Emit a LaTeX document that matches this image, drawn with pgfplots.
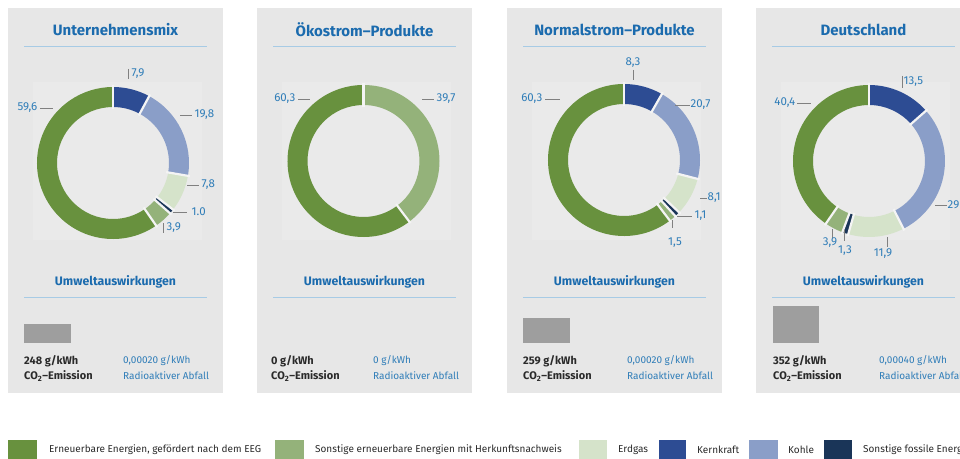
\documentclass[border=0pt]{standalone}
\usepackage{fontspec}
\setmainfont{Fira Sans}
\usepackage{pgfplots}
\usepackage{pgfplotstable}
\pgfplotsset{compat=1.18}

\definecolor{eeg}{HTML}{68913E}
\definecolor{sonstee}{HTML}{94B27A}
\definecolor{erdgas}{HTML}{D5E3CA}
\definecolor{kern}{HTML}{2D4C93}
\definecolor{kohle}{HTML}{8A9EC8}
\definecolor{fossil}{HTML}{1A3558}
\definecolor{cardbg}{HTML}{E7E7E7}
\definecolor{donutbg}{HTML}{EAEAEA}
\definecolor{gapc}{HTML}{F4F4F4}
\definecolor{titleblue}{HTML}{1B6BAE}
\definecolor{numblue}{HTML}{2F7DB8}
\definecolor{lineblue}{HTML}{A7CBE5}
\definecolor{barg}{HTML}{9E9E9E}
\definecolor{txt}{HTML}{2A2A2A}
\definecolor{tick}{HTML}{808080}

% share of each source, clockwise from the top
\pgfplotstableread{
v c
7.9 kern
19.8 kohle
7.8 erdgas
1.0 fossil
3.9 sonstee
59.6 eeg
}\tabA
\pgfplotstableread{
v c
39.7 sonstee
60.3 eeg
}\tabB
\pgfplotstableread{
v c
8.3 kern
20.7 kohle
8.1 erdgas
1.1 fossil
1.5 sonstee
60.3 eeg
}\tabC
\pgfplotstableread{
v c
13.5 kern
29.0 kohle
11.9 erdgas
1.3 fossil
3.9 sonstee
40.4 eeg
}\tabD

\newcommand\fs[1]{\fontsize{#1bp}{#1bp}\selectfont}
\def\Ro{76bp}\def\Ri{56bp}\def\Rw{20bp}

\newcommand\donut[3]{%
  \pgfplotstablegetrowsof{#1}%
  \pgfmathtruncatemacro\lastrow{\pgfplotsretval-1}%
  \gdef\cum{0}%
  \foreach \i in {0,...,\lastrow}{%
    \pgfplotstablegetelem{\i}{v}\of{#1}\let\val\pgfplotsretval
    \pgfplotstablegetelem{\i}{c}\of{#1}\let\col\pgfplotsretval
    \pgfmathsetmacro\sa{90-3.6*\cum}%
    \pgfmathsetmacro\sb{90-3.6*(\cum+\val)}%
    \fill[\col] (axis cs:#2,#3) ++(\sa:\Ro) arc[start angle=\sa, end angle=\sb, radius=\Ro]
      -- ++(\sb:-\Rw) arc[start angle=\sb, end angle=\sa, radius=\Ri] -- cycle;
    \pgfmathsetmacro\nc{\cum+\val}\xdef\cum{\nc}%
  }%
  \gdef\cum{0}%
  \foreach \i in {0,...,\lastrow}{%
    \pgfplotstablegetelem{\i}{v}\of{#1}\let\val\pgfplotsretval
    \pgfmathsetmacro\sa{90-3.6*\cum}%
    \draw[gapc, line width=2.2bp] (axis cs:#2,#3) ++(\sa:54bp) -- ++(\sa:24bp);
    \pgfmathsetmacro\nc{\cum+\val}\xdef\cum{\nc}%
  }%
}

% card: left x, title
\newcommand\card[2]{%
  \fill[cardbg] (axis cs:#1,8) rectangle (axis cs:#1+215,393);
  \fill[donutbg] (axis cs:#1+25,82) rectangle (axis cs:#1+194,240);
  \node[titleblue, font=\fs{15}\bfseries] at (axis cs:#1+107.5,30) {#2};
  \draw[lineblue, line width=0.8bp] (axis cs:#1+16,46) -- (axis cs:#1+199,46);
  \node[titleblue, font=\fs{12.3}\bfseries] at (axis cs:#1+107.5,282) {Umweltauswirkungen};
  \draw[lineblue, line width=0.6bp] (axis cs:#1+16,297) -- (axis cs:#1+199,297);
}
% bottom text: x of black text, co2, x of blue text, waste
\newcommand\bottomtext[4]{%
  \node[txt, anchor=west, inner sep=0pt, font=\fs{11}\bfseries] at (axis cs:#1,361) {#2 g/kWh};
  \node[txt, anchor=west, inner sep=0pt, font=\fs{11}\bfseries] at (axis cs:#1,376) {CO\textsubscript{2}–Emission};
  \node[numblue, anchor=west, inner sep=0pt, font=\fs{10}] at (axis cs:#3,361) {#4 g/kWh};
  \node[numblue, anchor=west, inner sep=0pt, font=\fs{10}] at (axis cs:#3,376) {Radioaktiver Abfall};
}
\newcommand\lbl[3]{\node[numblue, font=\fs{11.5}, inner sep=1.5bp, #1] at (axis cs:#2) {#3};}
\newcommand\tk[2]{\draw[tick, line width=0.9bp] (axis cs:#1) -- (axis cs:#2);}
\newcommand\legtext[2]{\node[txt, anchor=west, inner sep=0pt, font=\fs{10}] at (axis cs:#1,450) {#2};}

\begin{document}
\begin{tikzpicture}
\useasboundingbox (0,0) rectangle (960bp,459bp);
\clip (0,0) rectangle (960bp,459bp);
\begin{axis}[at={(0,0)}, anchor=south west, scale only axis,
  width=960bp, height=459bp, xmin=0, xmax=960, ymin=0, ymax=459,
  y dir=reverse, hide axis, clip=false, enlargelimits=false]

\card{8}{Unternehmensmix}
\card{257}{Ökostrom–Produkte}
\card{507}{Normalstrom–Produkte}
\card{756}{Deutschland}

\pgfplotsextra{\donut{\tabA}{113}{163}}
\pgfplotsextra{\donut{\tabB}{363.5}{161}}
\pgfplotsextra{\donut{\tabC}{624}{160}}
\pgfplotsextra{\donut{\tabD}{869}{161}}

% labels panel 1
\tk{128,69}{128,79}\lbl{anchor=west}{130,74}{7,9}
\tk{180,115}{192,115}\lbl{anchor=west}{193,115}{19,8}
\tk{187,185}{199,185}\lbl{anchor=west}{200,185}{7,8}
\tk{173,212}{187,212}\lbl{anchor=west}{190,212}{1.0}
\tk{163,223}{163,233}\lbl{anchor=west}{165,228}{3,9}
\tk{40,108}{53,108}\lbl{anchor=east}{39,108}{59,6}
% panel 2
\tk{298,99}{310,99}\lbl{anchor=east}{297,99}{60,3}
\tk{422,99}{434,99}\lbl{anchor=west}{435,99}{39,7}
% panel 3
\tk{633,70}{633,80}\lbl{}{633,63}{8,3}
\tk{675,105}{690,105}\lbl{anchor=west}{689,105}{20,7}
\tk{700,198}{707,198}\lbl{anchor=west}{706,198}{8,1}
\tk{677,216}{692,216}\lbl{anchor=west}{693,216}{1,1}
\tk{672,220}{672,228}\lbl{}{675,243}{1,5}
\tk{545,99}{560,99}\lbl{anchor=east}{544,99}{60,3}
% panel 4
\tk{902,76}{902,88}\lbl{anchor=west}{902,82}{13,5}
\tk{797,103}{811,103}\lbl{anchor=east}{797,103}{40,4}
\tk{935,205}{947,205}\lbl{anchor=west}{946,205}{29}
\tk{887,237}{887,247}\lbl{}{883,254}{11,9}
\tk{832,229}{832,238}\lbl{}{830,243}{3,9}
\tk{844,230}{844,241}\lbl{}{845,251}{1,3}

% CO2 bars (pixel heights as in the original)
\addplot[fill=barg, draw=none] coordinates {(24,343) (71,343) (71,324) (24,324)};
\addplot[fill=barg, draw=none] coordinates {(523,343) (570,343) (570,318) (523,318)};
\addplot[fill=barg, draw=none] coordinates {(773,343) (819,343) (819,306) (773,306)};

\bottomtext{24}{248}{123}{0,00020}
\bottomtext{271}{0}{373}{0}
\bottomtext{523}{259}{627}{0,00020}
\bottomtext{773}{352}{879}{0,00040}

% legend
\fill[eeg] (axis cs:8,440) rectangle (axis cs:37,459);
\legtext{49}{Erneuerbare Energien, gefördert nach dem EEG}
\fill[sonstee] (axis cs:275,440) rectangle (axis cs:304,459);
\legtext{315}{Sonstige erneuerbare Energien mit Herkunftsnachweis}
\fill[erdgas] (axis cs:579,440) rectangle (axis cs:607,459);
\legtext{618}{Erdgas}
\fill[kern] (axis cs:659,440) rectangle (axis cs:686,459);
\legtext{697}{Kernkraft}
\fill[kohle] (axis cs:749,440) rectangle (axis cs:778,459);
\legtext{788}{Kohle}
\fill[fossil] (axis cs:824,440) rectangle (axis cs:852,459);
\legtext{863}{Sonstige fossile Energieträger}
\end{axis}
\end{tikzpicture}
\end{document}
